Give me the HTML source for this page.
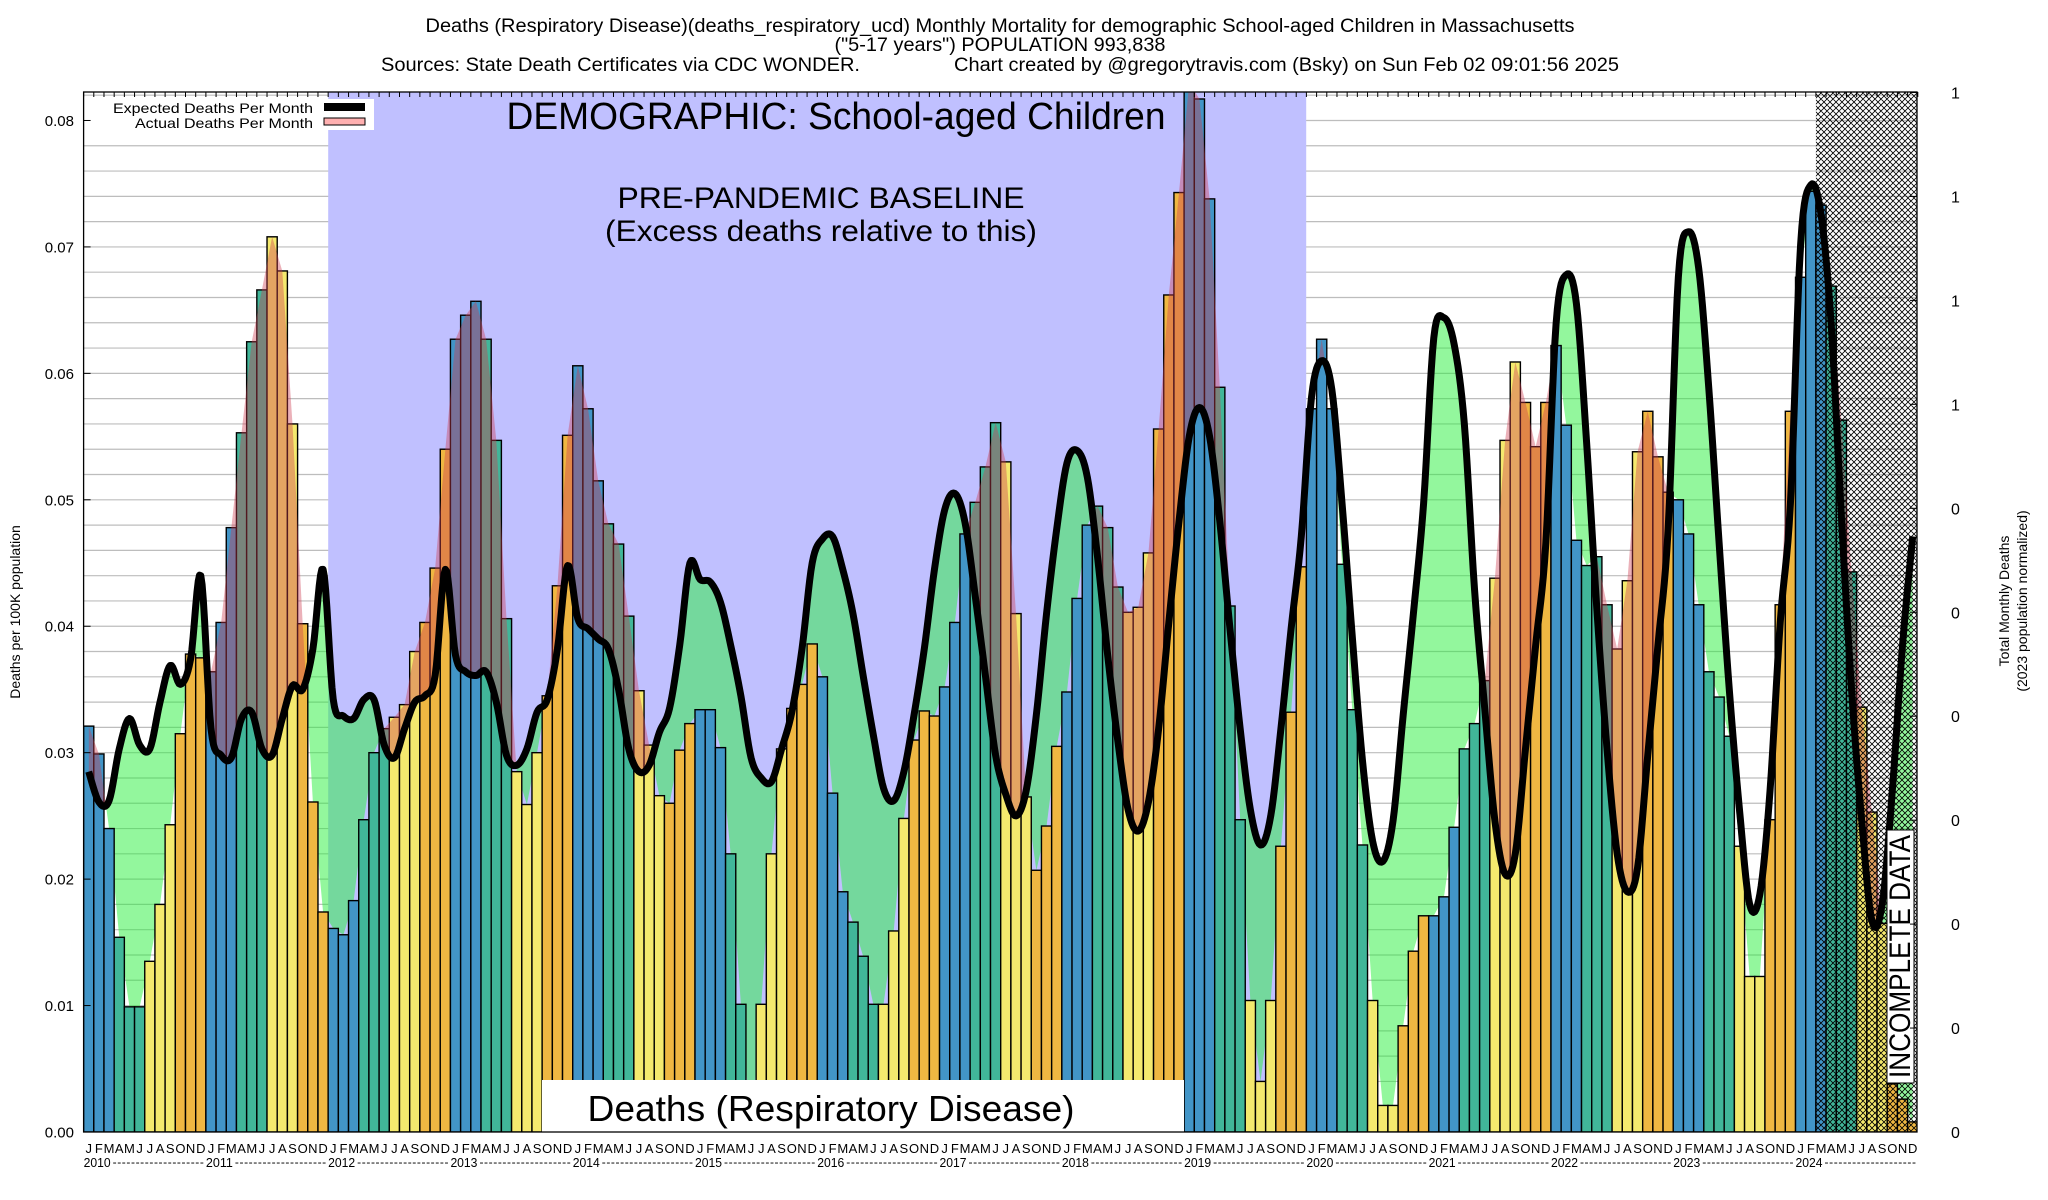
<!DOCTYPE html>
<html><head><meta charset="utf-8"><title>Deaths (Respiratory Disease) School-aged Children Massachusetts</title>
<style>
html,body{margin:0;padding:0;background:#fff;}
svg{display:block;font-family:"Liberation Sans",Arial,sans-serif;}
</style></head>
<body>
<svg id="chart" xmlns="http://www.w3.org/2000/svg" width="2048" height="1200" viewBox="0 0 2048 1200">
<defs>
  <pattern id="hatch" width="6" height="6" patternUnits="userSpaceOnUse">
    <path d="M0,0 L6,6 M6,0 L0,6 M-1,5 L1,7 M5,-1 L7,1 M-1,1 L1,-1 M5,7 L7,5" stroke="#000" stroke-width="0.8"/>
  </pattern>
  <clipPath id="plotClip"><rect x="83.6" y="92" width="1833.4" height="1040"/></clipPath>
  <clipPath id="aboveExpected"><path id="aboveExpectedPath" d=""/></clipPath>
  <clipPath id="aboveActual"><path id="aboveActualPath" d=""/></clipPath>
</defs>
<rect x="0" y="0" width="2048" height="1200" fill="#fff"/>

<text x="1000" y="32" font-size="19" text-anchor="middle" textLength="1149" lengthAdjust="spacingAndGlyphs">Deaths (Respiratory Disease)(deaths_respiratory_ucd) Monthly Mortality for demographic School-aged Children in Massachusetts</text>
<text x="1000" y="51" font-size="19" text-anchor="middle" textLength="331" lengthAdjust="spacingAndGlyphs">("5-17 years") POPULATION 993,838</text>
<text x="381" y="71" font-size="19" textLength="479" lengthAdjust="spacingAndGlyphs">Sources: State Death Certificates via CDC WONDER.</text>
<text x="954" y="71" font-size="19" textLength="665" lengthAdjust="spacingAndGlyphs">Chart created by @gregorytravis.com (Bsky) on Sun Feb 02 09:01:56 2025</text>

<g id="grid"></g>
<rect id="baseline" x="328.2" y="92" width="978" height="1040" fill="#c0c0ff"/>
<g clip-path="url(#plotClip)">
  <g clip-path="url(#aboveActual)"><path id="greenFill" fill="rgb(40,240,60)" fill-opacity="0.5" d=""/></g>
  <g id="bars"></g>
  <g clip-path="url(#aboveExpected)"><path id="pinkFill" fill="rgb(205,60,80)" fill-opacity="0.4" d=""/></g>
  <path id="expectedLine" fill="none" stroke="#000" stroke-width="7" stroke-linejoin="round" d=""/>
  <rect id="hatchRect" x="0" y="92" width="0" height="1040" fill="url(#hatch)"/>
</g>

<text x="836" y="129" font-size="38" text-anchor="middle" textLength="659" lengthAdjust="spacingAndGlyphs">DEMOGRAPHIC: School-aged Children</text>
<text x="821" y="208" font-size="30" text-anchor="middle" textLength="407" lengthAdjust="spacingAndGlyphs">PRE-PANDEMIC BASELINE</text>
<text x="821" y="241" font-size="30" text-anchor="middle" textLength="432" lengthAdjust="spacingAndGlyphs">(Excess deaths relative to this)</text>

<rect x="542" y="1080" width="642" height="52" fill="#fff"/>
<text x="831" y="1121" font-size="36" text-anchor="middle" textLength="487" lengthAdjust="spacingAndGlyphs">Deaths (Respiratory Disease)</text>

<rect x="1887" y="830" width="27" height="253" fill="#fff" stroke="#000" stroke-width="1"/>
<text transform="translate(1910,1078) rotate(-90)" font-size="30" textLength="243" lengthAdjust="spacingAndGlyphs">INCOMPLETE DATA</text>

<g>
  <rect x="84" y="99" width="290" height="31" fill="#fff"/>
  <text x="313" y="113" font-size="14" text-anchor="end" textLength="200" lengthAdjust="spacingAndGlyphs">Expected Deaths Per Month</text>
  <rect x="324" y="103" width="41" height="8" fill="#000"/>
  <text x="313" y="128" font-size="14" text-anchor="end" textLength="178" lengthAdjust="spacingAndGlyphs">Actual Deaths Per Month</text>
  <rect x="324" y="118" width="41" height="7" fill="#ffb0b0" stroke="#000" stroke-width="1"/>
</g>

<rect x="83.6" y="92" width="1833.4" height="1040" fill="none" stroke="#000" stroke-width="1.3"/>
<g id="axes"></g>

<text transform="translate(20,612) rotate(-90)" font-size="14" text-anchor="middle">Deaths per 100K population</text>
<text transform="translate(2009,601) rotate(-90)" font-size="14" text-anchor="middle">Total Monthly Deaths</text>
<text transform="translate(2027,601) rotate(-90)" font-size="14" text-anchor="middle">(2023 population normalized)</text>
</svg>

<script>
const monthLetters = ['J','F','M','A','M','J','J','A','S','O','N','D'];
const years = [2010,2011,2012,2013,2014,2015,2016,2017,2018,2019,2020,2021,2022,2023,2024];
const actualDeaths = [
 .0321,.0299,.0240,.0154,.0099,.0099,.0135,.0180,.0243,.0315,.0378,.0375,
 .0364,.0403,.0478,.0553,.0625,.0666,.0708,.0681,.0560,.0402,.0261,.0174,
 .0161,.0156,.0183,.0247,.0300,.0319,.0328,.0338,.0380,.0403,.0446,.0540,
 .0627,.0646,.0657,.0627,.0547,.0406,.0285,.0259,.0300,.0345,.0432,.0551,
 .0606,.0572,.0515,.0481,.0465,.0408,.0349,.0306,.0266,.0260,.0302,.0323,
 .0334,.0334,.0304,.0220,.0101,0,.0101,.0220,.0303,.0335,.0354,.0386,
 .0360,.0268,.0190,.0166,.0139,.0101,.0101,.0159,.0248,.0310,.0333,.0329,
 .0352,.0403,.0473,.0498,.0526,.0561,.0530,.0410,.0265,.0207,.0242,.0305,
 .0348,.0422,.0480,.0495,.0478,.0431,.0411,.0415,.0458,.0556,.0662,.0743,
 .0830,.0817,.0738,.0589,.0416,.0247,.0104,.0040,.0104,.0226,.0332,.0447,
 .0572,.0627,.0572,.0449,.0334,.0227,.0104,.0021,.0021,.0084,.0143,.0171,
 .0171,.0186,.0241,.0303,.0323,.0357,.0438,.0547,.0609,.0577,.0542,.0577,
 .0622,.0559,.0468,.0448,.0455,.0417,.0382,.0436,.0538,.0570,.0534,.0506,
 .0500,.0473,.0417,.0364,.0344,.0313,.0226,.0123,.0123,.0247,.0417,.0570,
 .0676,.0744,.0733,.0669,.0563,.0443,.0336,.0253,.0165,.0038,.0026,.0008
];
const expectedDeaths = [
 .0285,.0261,.0262,.0303,.0327,.0306,.0303,.0340,.0369,.0354,.0374,.0440,
 .0319,.0298,.0296,.0327,.0332,.0303,.0298,.0327,.0353,.0350,.0382,.0445,
 .0342,.0329,.0327,.0342,.0342,.0306,.0296,.0319,.0340,.0345,.0361,.0445,
 .0377,.0364,.0361,.0364,.0340,.0298,.0290,.0303,.0332,.0342,.0382,.0448,
 .0406,.0398,.0390,.0382,.0350,.0303,.0285,.0290,.0316,.0335,.0385,.0450,
 .0437,.0435,.0419,.0385,.0345,.0296,.0280,.0277,.0303,.0332,.0382,.0450,
 .0469,.0471,.0445,.0410,.0361,.0314,.0272,.0262,.0285,.0330,.0382,.0445,
 .0492,.0505,.0482,.0424,.0361,.0298,.0267,.0250,.0270,.0330,.0410,.0477,
 .0529,.0539,.0518,.0455,.0377,.0309,.0255,.0238,.0261,.0319,.0403,.0483,
 .0550,.0573,.0550,.0483,.0398,.0319,.0255,.0227,.0250,.0319,.0398,.0471,
 .0581,.0610,.0587,.0497,.0392,.0294,.0230,.0214,.0246,.0330,.0410,.0497,
 .0628,.0644,.0623,.0560,.0429,.0335,.0246,.0204,.0220,.0303,.0385,.0466,
 .0639,.0678,.0655,.0545,.0414,.0303,.0220,.0190,.0209,.0298,.0385,.0477,
 .0676,.0712,.0683,.0587,.0466,.0350,.0255,.0180,.0188,.0270,.0403,.0497,
 .0702,.0749,.0726,.0639,.0487,.0350,.0246,.0167,.0180,.0270,.0385,.0471
];
const yTickValues = [0,0.01,0.02,0.03,0.04,0.05,0.06,0.07,0.08];
const yTickLabels = ['0.00','0.01','0.02','0.03','0.04','0.05','0.06','0.07','0.08'];
const y2TickLabels = ['0','0','0','0','0','0','0','1','1','1','1'];
const quarterColors = ['#4295c7','#41b699','#f4e96e','#efb742'];

const NS = 'http://www.w3.org/2000/svg';
const L = 83.6, R = 1917, T = 92, B = 1132, MW = 10.19, PXV = 12644;
const xL = m => L + m * MW;
const xC = m => L + (m + 0.5) * MW;
const yV = v => B - v * PXV;
function mk(tag, attrs, parent) {
  const e = document.createElementNS(NS, tag);
  for (const k in attrs) e.setAttribute(k, attrs[k]);
  parent.appendChild(e);
  return e;
}

const grid = document.getElementById('grid');
for (let i = 1; i <= 41; i++) {
  const y = yV(i * 0.002);
  const ln = mk('line', {x1: L, x2: R, y1: y, y2: y, stroke: '#bdbdbd', 'stroke-width': 1.2}, grid);
  
  
}
document.getElementById('hatchRect').setAttribute('x', xL(170));
document.getElementById('hatchRect').setAttribute('width', R - xL(170));

const barsG = document.getElementById('bars');
actualDeaths.forEach((v, m) => {
  const q = Math.floor((m % 12) / 3);
  const y = yV(v);
  const r = mk('rect', {x: xL(m), y: y, width: MW, height: B - y, fill: quarterColors[q], stroke: '#000', 'stroke-width': 1.4}, barsG);
  
  
});

function spline(vals) {
  const pts = vals.map((v, i) => [xC(i), yV(v)]);
  const out = [pts[0]];
  for (let i = 0; i < pts.length - 1; i++) {
    const p0 = pts[Math.max(i - 1, 0)], p1 = pts[i], p2 = pts[i + 1], p3 = pts[Math.min(i + 2, pts.length - 1)];
    for (let s = 1; s <= 8; s++) {
      const t = s / 8, t2 = t * t, t3 = t2 * t;
      const f = (a, b, c, d) => 0.5 * (2 * b + (-a + c) * t + (2 * a - 5 * b + 4 * c - d) * t2 + (-a + 3 * b - 3 * c + d) * t3);
      out.push([f(p0[0], p1[0], p2[0], p3[0]), f(p0[1], p1[1], p2[1], p3[1])]);
    }
  }
  return out;
}
const ePts = spline(expectedDeaths);
const aPts = actualDeaths.map((v, i) => [xC(i), yV(v)]);
const toD = p => p.map((q, i) => (i ? 'L' : 'M') + q[0].toFixed(2) + ',' + q[1].toFixed(2)).join('');
document.getElementById('expectedLine').setAttribute('d', toD(ePts));
const first = ePts[0][0], last = ePts[ePts.length - 1][0];
document.getElementById('pinkFill').setAttribute('d', toD(aPts) + 'L' + last + ',' + B + 'L' + first + ',' + B + 'Z');
document.getElementById('greenFill').setAttribute('d', toD(ePts) + 'L' + last + ',' + B + 'L' + first + ',' + B + 'Z');
document.getElementById('aboveExpectedPath').setAttribute('d', toD(ePts) + 'L' + last + ',0L' + first + ',0Z');
document.getElementById('aboveActualPath').setAttribute('d', toD(aPts) + 'L' + last + ',0L' + first + ',0Z');

const axes = document.getElementById('axes');
yTickValues.forEach((v, i) => {
  const y = yV(v);
  const tk = mk('line', {x1: L, x2: L + 7, y1: y, y2: y, stroke: '#000', 'stroke-width': 1}, axes);
  
  
  const tx = mk('text', {x: 74, y: y + 5.5, 'font-size': 15, 'text-anchor': 'end'}, axes);
  tx.textContent = yTickLabels[i];
  
  
});
y2TickLabels.forEach((lab, k) => {
  const y = B - k * 103.95;
  const tk = mk('line', {x1: R - 7, x2: R, y1: y, y2: y, stroke: '#000', 'stroke-width': 1}, axes);
  
  
  const tx = mk('text', {x: 1951, y: y + 6, 'font-size': 16}, axes);
  tx.textContent = lab;
  
  
});
for (let m = 0; m <= 180; m++) {
  const tk = mk('line', {x1: xL(m), x2: xL(m), y1: T, y2: T + 5, stroke: '#000', 'stroke-width': 1}, axes);
  
  
}
actualDeaths.forEach((v, m) => {
  const tx = mk('text', {x: xC(m), y: 1153, 'font-size': 13, 'text-anchor': 'middle'}, axes);
  tx.textContent = monthLetters[m % 12];
  
  
});
years.forEach((yr, i) => {
  const x0 = xL(i * 12);
  const tx = mk('text', {x: x0, y: 1167, 'font-size': 13, textLength: 27, lengthAdjust: 'spacingAndGlyphs'}, axes);
  tx.textContent = String(yr);
  
  
  const x1 = i < years.length - 1 ? xL((i + 1) * 12) - 1 : R;
  const ds = mk('text', {x: x0 + 29, y: 1166, 'font-size': 12, textLength: (x1 - x0 - 30).toFixed(1), lengthAdjust: 'spacing'}, axes);
  ds.textContent = '--------------------';
  
  
});
</script>
</body></html>
